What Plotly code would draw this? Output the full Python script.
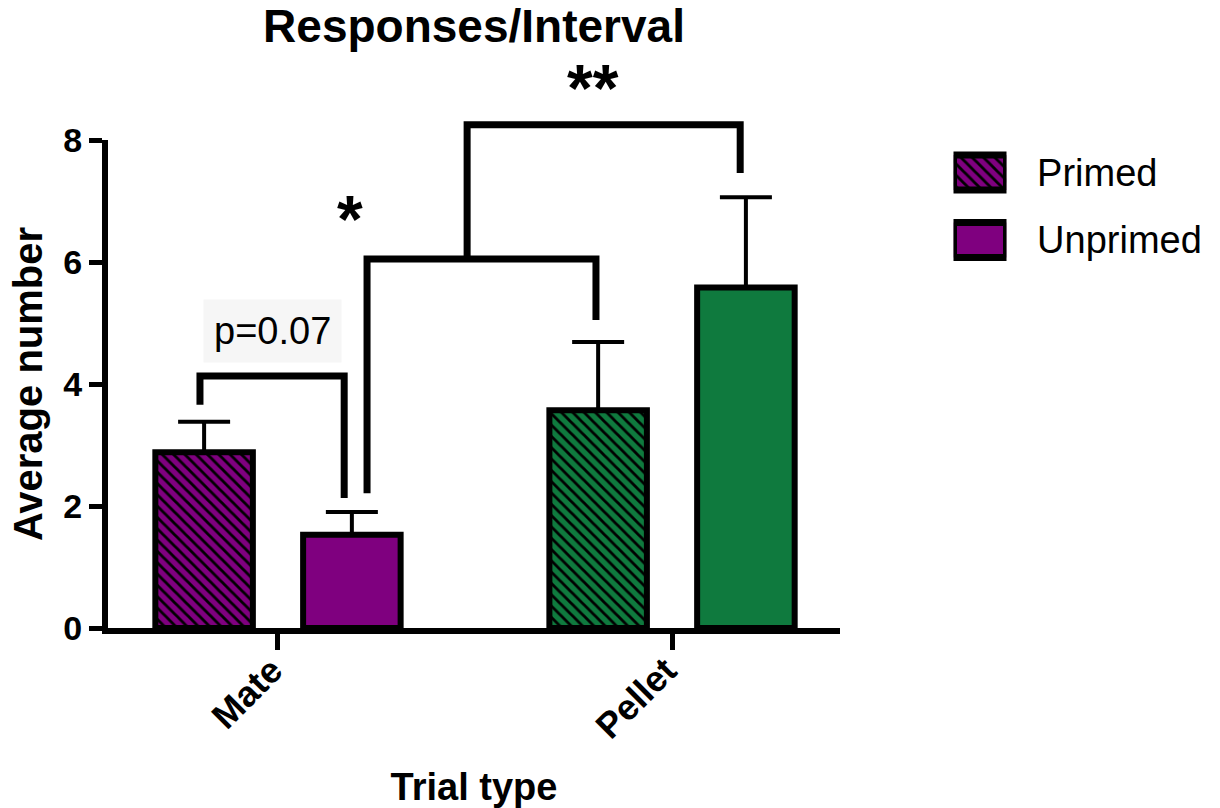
import plotly.graph_objects as go

# ---------------- data ----------------
categories = ["Mate", "Pellet"]
series_names = ["Primed", "Unprimed"]
primed_mean = [2.88, 3.57]
primed_sem = [0.50, 1.12]
unprimed_mean = [1.53, 5.58]
unprimed_sem = [0.37, 1.48]
category_colors = ["#7f007f", "#0f7a3e"]

# significance brackets (x in category units, y in data units)
bracket_x_left = [-0.198, 0.226, 0.480]
bracket_x_right = [0.168, 0.807, 1.173]
bracket_top = [4.13, 6.05, 8.25]
bracket_left_end = [3.66, 2.21, 6.05]
bracket_right_end = [2.13, 5.05, 7.46]
bracket_labels = ["p=0.07", "*", "**"]
label_x = [-0.015, 0.183, 0.80]
label_y = [4.87, 6.71, 8.85]
y_ticks = [0, 2, 4, 6, 8]

# ---------------- layout geometry ----------------
OFF = 0  # body margin is removed by the post script below
W, H = 1220 - 2 * OFF, 808 - 2 * OFF
plot_left = 108 - OFF
plot_right = 840 - OFF
plot_top = 140 - OFF
plot_bottom = 628 - OFF
ML, MR, MT = plot_left, 10, 50
MB = H - plot_bottom
pw = W - ML - MR
ph = H - MT - MB
main_x_dom = [0, (plot_right - ML) / pw]
main_y_top = (plot_bottom - plot_top) / ph
xr = [-0.4314, 1.4263]
y_max = 8

# legend swatch geometry (figure pixels)
leg_x0, leg_x1 = 953.5 - OFF, 1006.5 - OFF
leg_y0, leg_y1 = 138.75 - OFF, 273.75 - OFF

FONT = "Liberation Sans, Arial, Helvetica, sans-serif"
PURPLE = category_colors[0]

fig = go.Figure()

# hatched bars: scalar marker colour so the per-point pattern bgcolor is honoured
fig.add_trace(go.Bar(
    x=categories, y=primed_mean, name=series_names[0],
    marker=dict(color=PURPLE, line=dict(color="black", width=6),
                pattern=dict(shape="\\", fgcolor="black", bgcolor=category_colors,
                             fgopacity=1, size=8, solidity=0.35, fillmode="replace")),
    error_y=dict(type="data", array=primed_sem, arrayminus=[0] * len(primed_sem),
                 symmetric=False, color="black", thickness=4, width=26),
    xaxis="x", yaxis="y", cliponaxis=False,
))
fig.add_trace(go.Bar(
    x=categories, y=unprimed_mean, name=series_names[1],
    marker=dict(color=category_colors, line=dict(color="black", width=6)),
    error_y=dict(type="data", array=unprimed_sem, arrayminus=[0] * len(unprimed_sem),
                 symmetric=False, color="black", thickness=4, width=26),
    xaxis="x", yaxis="y", cliponaxis=False,
))

# significance brackets on an overlay subplot that extends above the axes
bx, by = [], []
for xl, xrr, yt, yl, yrr in zip(bracket_x_left, bracket_x_right, bracket_top,
                                 bracket_left_end, bracket_right_end):
    bx += [xl, xl, xrr, xrr, None]
    by += [yl, yt, yt, yrr, None]
fig.add_trace(go.Scatter(x=bx, y=by, mode="lines",
                         line=dict(color="black", width=7),
                         xaxis="x2", yaxis="y2", hoverinfo="skip"))

# legend swatches
fig.add_trace(go.Bar(
    y=series_names, x=[1, 1], orientation="h", width=0.52,
    marker=dict(color=PURPLE, line=dict(color="black", width=7),
                pattern=dict(shape=["\\", ""], fgcolor="black",
                             bgcolor=PURPLE, fgopacity=1, size=8,
                             solidity=0.35, fillmode="replace")),
    xaxis="x3", yaxis="y3", cliponaxis=False, hoverinfo="skip",
))

annotations = []
for t, lx, ly in zip(bracket_labels, label_x, label_y):
    if t.startswith("p"):
        annotations.append(dict(x=lx, y=ly, xref="x2", yref="y2", text=t,
                                showarrow=False, bgcolor="#f6f6f6", borderpad=10,
                                font=dict(family=FONT, size=38, color="black")))
    else:
        annotations.append(dict(x=lx, y=ly, xref="x2", yref="y2", text="<b>" + t + "</b>",
                                showarrow=False,
                                font=dict(family=FONT, size=66, color="black")))

fig.update_layout(
    width=W, height=H,
    margin=dict(l=ML, r=MR, t=MT, b=MB, autoexpand=False),
    paper_bgcolor="white", plot_bgcolor="rgba(0,0,0,0)",
    showlegend=False,
    barmode="group", bargap=0.25, bargroupgap=0.34,
    font=dict(family=FONT, color="black"),
    title=dict(text="<b>Responses/Interval</b>", x=474 / W, xref="container",
               xanchor="center", y=1 - 10 / H, yref="container", yanchor="top",
               font=dict(family=FONT, size=46, color="black")),
    xaxis=dict(domain=main_x_dom, type="category", range=xr, anchor="y",
               showline=True, linewidth=6, linecolor="black", mirror=False,
               ticks="outside", ticklen=16, tickwidth=5, tickcolor="black",
               tickangle=-45, ticklabelstandoff=-15, ticklabelshift=-6,
               showgrid=False, zeroline=False,
               tickfont=dict(family=FONT, size=36, color="black", weight="bold"),
               title=dict(text="<b>Trial type</b>", standoff=37,
                          font=dict(family=FONT, size=38, color="black"))),
    yaxis=dict(domain=[0, main_y_top], range=[0, y_max], anchor="x",
               tickvals=y_ticks, showline=True, linewidth=6, linecolor="black",
               ticks="outside", ticklen=13, tickwidth=5, tickcolor="black",
               showgrid=False, zeroline=False,
               tickfont=dict(family=FONT, size=34, color="black", weight="bold"),
               title=dict(text="<b>Average number</b>", standoff=10,
                          font=dict(family=FONT, size=40, color="black"))),
    xaxis2=dict(domain=main_x_dom, range=xr, anchor="y2", visible=False,
                fixedrange=True),
    yaxis2=dict(domain=[0, 1], range=[0, y_max / main_y_top], anchor="x2",
                visible=False, fixedrange=True),
    xaxis3=dict(domain=[(leg_x0 - ML) / pw, (leg_x1 - ML) / pw], range=[0, 1],
                anchor="y3", visible=False),
    yaxis3=dict(domain=[(plot_bottom - leg_y1) / ph, (plot_bottom - leg_y0) / ph],
                type="category", autorange="reversed", anchor="x3", side="right",
                showline=False, showgrid=False, zeroline=False,
                ticks="outside", ticklen=22, tickcolor="rgba(0,0,0,0)",
                tickfont=dict(family=FONT, size=38, color="black")),
    annotations=annotations,
)

fig.write_html("out.html",
               config={"displayModeBar": False},
               post_script="document.body.style.margin='0';document.body.style.overflow='hidden';")
